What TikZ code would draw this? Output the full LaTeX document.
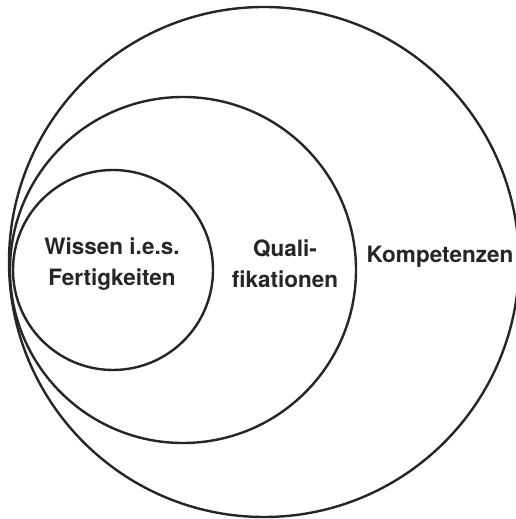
\documentclass[tikz,border=0pt]{standalone}
\usepackage{fontspec}
\setmainfont{TeX Gyre Heros}

\tikzset{
    kreis/.style={line width=2.4pt, color=black!85},
    beschriftung/.style={font=\bfseries\fontsize{22.5}{31}\selectfont, text=black!85, align=center, inner sep=0pt}
}

\begin{document}
\begin{tikzpicture}[x=1pt, y=1pt]

        \useasboundingbox (0,0) rectangle (515,519);

        % Kreise
        \begin{scope}
            % Kompetenzen
            \draw[kreis] (264,257) circle (255);

            % Qualifikationen
            \draw[kreis] (183,249) circle (173);

            % Wissen
            \draw[kreis] (113,249) circle (100);
        \end{scope}

        % Texte
        \begin{scope}
            \node[beschriftung] (wissen) at (112,255) {Wissen i.e.s.\\Fertigkeiten};
            \node[beschriftung] (quali) at (285,255) {Quali-\\fikationen};
            \node[beschriftung] (kompetenz) at (440,262) {Kompetenzen};
        \end{scope}
    \end{tikzpicture}
\end{document}
